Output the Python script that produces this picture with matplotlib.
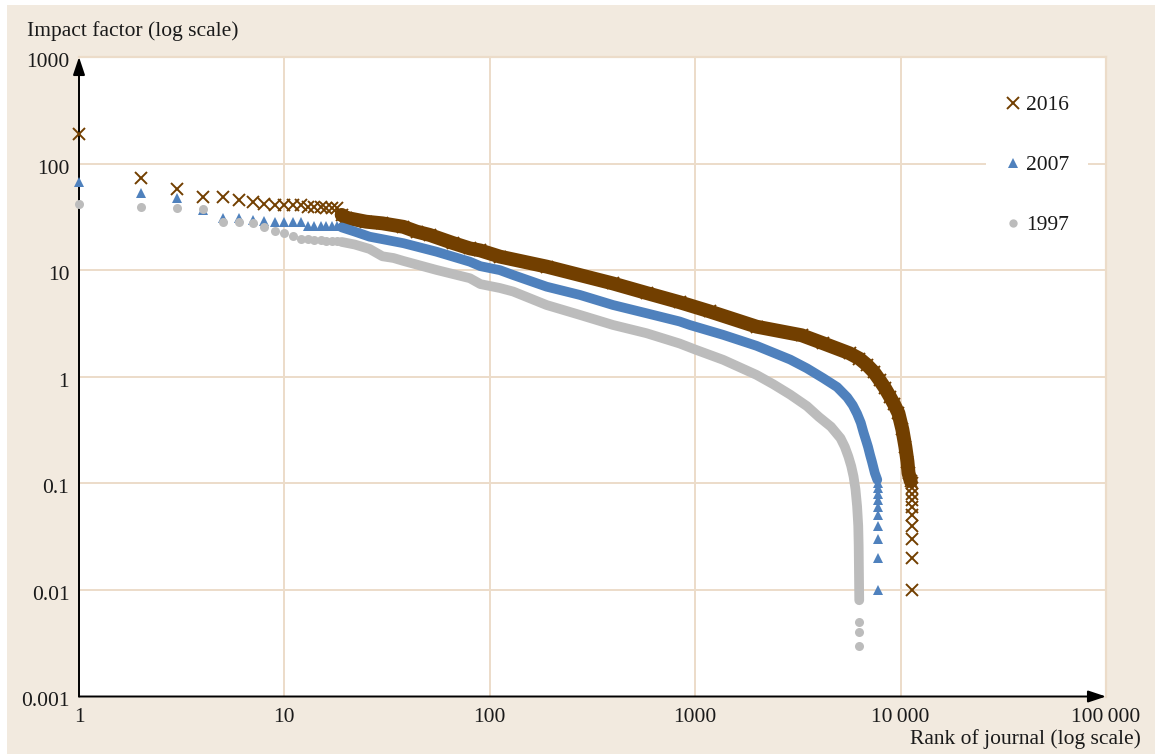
import matplotlib.pyplot as plt
from matplotlib.lines import Line2D
from matplotlib.patches import Rectangle
from matplotlib.ticker import NullLocator
from matplotlib.transforms import ScaledTranslation

# ranks 1-18 are drawn one by one, the dense middle as a band, the bottom tail again one by one
rank_head = list(range(1, 19))
if_2016_head = [188, 72.8, 57.8, 48.3, 48.3, 45.3, 44.0, 41.7, 40.9, 40.9, 40.5, 40.5, 39.3, 39.0, 38.8, 38.6, 38.4, 38.2]
if_2007_head = [67.7, 52.5, 47.2, 36.7, 31.1, 30.6, 29.6, 29.1, 28.6, 28.5, 28.5, 28.4, 26.2, 26.1, 26.0, 26.0, 25.8, 25.7]
if_1997_head = [41.7, 39.5, 38.6, 37.7, 28.5, 28.5, 27.5, 25.2, 23.4, 22.4, 20.9, 19.6, 19.5, 19.3, 19.1, 18.9, 18.8, 18.6]

rank_2016_body = [19, 20, 25, 30, 38, 44, 51, 66, 80, 90, 112, 189, 398, 580, 840, 1177, 1990, 3300, 4200,
                  5640, 6300, 6860, 7400, 7900, 8400, 8870, 9300, 9760, 10200, 10550, 10800, 10930, 11200]
if_2016_body = [33, 31, 28.5, 27.5, 25.5, 23, 21.4, 18, 16, 15.3, 13.4, 10.8, 7.5, 6.1, 5.0, 4.1, 2.95, 2.45, 2.06,
                1.66, 1.48, 1.29, 1.11, 0.93, 0.78, 0.65, 0.55, 0.455, 0.32, 0.22, 0.16, 0.125, 0.105]
rank_2016_tail = [11320, 11325, 11330, 11335, 11340, 11345, 11350, 11355, 11360, 11365]
if_2016_tail = [0.1, 0.09, 0.08, 0.07, 0.06, 0.05, 0.04, 0.03, 0.02, 0.01]

rank_2007_body = [19, 22, 26, 38, 55, 80, 90, 112, 130, 189, 275, 398, 580, 840, 940, 1370, 1990, 2900, 3500, 4200,
                  4910, 5500, 5850, 6140, 6400, 6600, 6800, 6940, 7100, 7250, 7490, 7700]
if_2007_body = [25.2, 23, 20.6, 17.9, 14.9, 12.0, 10.9, 10.0, 9.0, 7.0, 5.85, 4.71, 3.94, 3.3, 3.06, 2.47, 1.95, 1.45, 1.2, 0.97,
                0.8, 0.64, 0.54, 0.45, 0.37, 0.3, 0.25, 0.22, 0.185, 0.16, 0.125, 0.108]
rank_2007_tail = [7760, 7763, 7766, 7769, 7772, 7775, 7778, 7781, 7784, 7787]
if_2007_tail = [0.1, 0.09, 0.08, 0.07, 0.06, 0.05, 0.04, 0.03, 0.02, 0.01]

rank_1997_body = [19, 22, 26, 30, 34, 38, 55, 80, 90, 112, 130, 189, 275, 398, 580, 840, 1000, 1370, 1990, 2400, 2900,
                  3500, 4000, 4580, 5100, 5350, 5570, 5750, 5900, 6030, 6140, 6220, 6250, 6290]
if_1997_body = [18.4, 17.4, 15.8, 13.5, 13.0, 12.2, 10.05, 8.4, 7.4, 6.8, 6.3, 4.71, 3.8, 3.06, 2.56, 2.05, 1.8, 1.44, 1.04, 0.85, 0.68,
                0.53, 0.42, 0.34, 0.265, 0.22, 0.178, 0.145, 0.116, 0.088, 0.061, 0.04, 0.026, 0.008]
rank_1997_tail = [6292, 6294, 6296]
if_1997_tail = [0.005, 0.004, 0.003]

x_ticks = [1, 10, 100, 1000, 10000, 100000]
x_labels = ['1', '10', '100', '1000', '10\u2009000', '100\u2009000']
y_ticks = [0.001, 0.01, 0.1, 1, 10, 100, 1000]
y_labels = ['0.001', '0.01', '0.1', '1', '10', '100', '1000']

brown = '#723f00'
blue = '#4f81bd'
gray = '#bcbcbc'
beige = '#f2eadf'
gridc = '#ecdcc9'
serif = ['Liberation Serif', 'DejaVu Serif']
fs = 15.5

plt.rcParams['font.family'] = serif
plt.rcParams['font.size'] = fs

fig = plt.figure(figsize=(11.55, 7.54), dpi=100)
fig.patch.set_facecolor('white')
fig.patches.append(Rectangle((7 / 1155, 0), 1, 1 - 5 / 754, transform=fig.transFigure,
                             facecolor=beige, edgecolor='none', zorder=-10))

ax = fig.add_axes([79 / 1155, 1 - 696.5 / 754, (1106 - 79) / 1155, (696.5 - 57) / 754])
ax.set_facecolor('white')
ax.set_xscale('log')
ax.set_yscale('log')
ax.set_xlim(1, 1e5)
ax.set_ylim(1e-3, 1e3)
ax.set_xticks(x_ticks)
ax.set_xticklabels(x_labels)
ax.set_yticks(y_ticks)
ax.set_yticklabels(y_labels)
ax.xaxis.set_minor_locator(NullLocator())
ax.yaxis.set_minor_locator(NullLocator())
ax.tick_params(length=0, labelsize=fs, colors='#1a1a1a')
ax.tick_params(axis='x', pad=8)
ax.tick_params(axis='y', pad=7)
# y labels sit a few pixels below their gridline in the original
shift = ScaledTranslation(0, -3 / 100, fig.dpi_scale_trans)
for t in ax.get_yticklabels():
    t.set_transform(t.get_transform() + shift)
ax.grid(True, color=gridc, lw=1.4)
ax.set_axisbelow(True)

for s in ['top', 'right']:
    ax.spines[s].set_color(gridc)
    ax.spines[s].set_linewidth(1.6)
for s in ['left', 'bottom']:
    ax.spines[s].set_visible(False)

arrow = dict(arrowstyle='-|>,head_length=0.6,head_width=0.2', color='black', lw=1.4,
             mutation_scale=18, shrinkA=0, shrinkB=0)
ax.annotate('', xy=(0, 1), xytext=(0, 0), xycoords='axes fraction', arrowprops=arrow, annotation_clip=False)
ax.annotate('', xy=(1, 0), xytext=(0, 0), xycoords='axes fraction', arrowprops=arrow, annotation_clip=False)

# 2016
ax.plot(rank_2016_body, if_2016_body, color=brown, lw=10, solid_capstyle='round', solid_joinstyle='round', zorder=3)
ax.plot(rank_2016_body, if_2016_body, ls='none', marker='x', color=brown, ms=8.5, mew=1.4, zorder=3)
ax.plot(rank_head, if_2016_head, ls='none', marker='x', color=brown, ms=8.5, mew=1.4, zorder=3, clip_on=False)
ax.plot(rank_2016_tail, if_2016_tail, ls='none', marker='x', color=brown, ms=8.5, mew=1.4, zorder=3)

# 2007
ax.plot(rank_2007_body, if_2007_body, color=blue, lw=7, solid_capstyle='round', solid_joinstyle='round', zorder=4)
ax.plot(rank_head, if_2007_head, ls='none', marker='^', color=blue, ms=7.5, mew=0, zorder=4, clip_on=False)
ax.plot(rank_2007_tail, if_2007_tail, ls='none', marker='^', color=blue, ms=7.5, mew=0, zorder=4)

# 1997
ax.plot(rank_1997_body, if_1997_body, color=gray, lw=7, solid_capstyle='round', solid_joinstyle='round', zorder=5)
ax.plot(rank_head, if_1997_head, ls='none', marker='o', color=gray, ms=6.5, mew=0, zorder=5, clip_on=False)
ax.plot(rank_1997_tail, if_1997_tail, ls='none', marker='o', color=gray, ms=6.5, mew=0, zorder=5)

handles = [Line2D([], [], ls='none', marker='x', color=brown, ms=8, mew=1.4),
           Line2D([], [], ls='none', marker='^', color=blue, ms=7, mew=0),
           Line2D([], [], ls='none', marker='o', color=gray, ms=6, mew=0)]
leg = ax.legend(handles, ['2016', '2007', '1997'], loc='upper left',
                bbox_to_anchor=(986 / 1155, 1 - 76 / 754), bbox_transform=fig.transFigure,
                frameon=True, facecolor='white', edgecolor='none', framealpha=1, fancybox=False,
                handlelength=0.7, handletextpad=0.25, labelspacing=1.85, borderpad=0.9,
                borderaxespad=0, fontsize=fs)
for t in leg.get_texts():
    t.set_color('#1a1a1a')

fig.text(27 / 1155, 1 - 31 / 754, 'Impact factor (log scale)', ha='left', va='center',
         fontsize=fs, color='#1a1a1a')
fig.text(1141 / 1155, 1 - 739 / 754, 'Rank of journal (log scale)', ha='right', va='center',
         fontsize=fs, color='#1a1a1a')

fig.savefig('out.png', dpi=100, facecolor=fig.get_facecolor())
